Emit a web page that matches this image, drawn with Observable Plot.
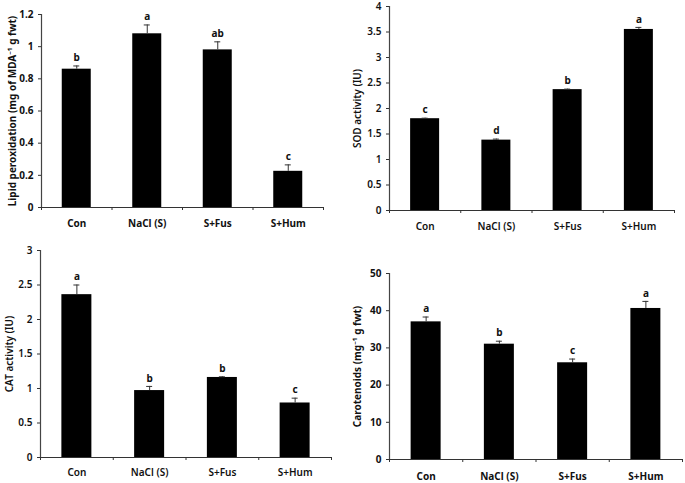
<!DOCTYPE html>
<html>
<head>
<meta charset="utf-8">
<script src="https://cdn.jsdelivr.net/npm/d3@7"></script>
<script src="https://cdn.jsdelivr.net/npm/@observablehq/plot@0.6"></script>
<style>
  body { margin: 0; background: #fff; }
  #wrap { position: relative; width: 685px; height: 483px; background: #fff; font-family: "Noto Sans", sans-serif; }
  #wrap > div { position: absolute; }
</style>
</head>
<body>
<div id="wrap"></div>
<script>
const categories = ["Con", "NaCl (S)", "S+Fus", "S+Hum"];

const lipidValues = [0.86, 1.08, 0.98, 0.225];
const lipidErrors = [0.02, 0.055, 0.05, 0.04];
const lipidLetters = ["b", "a", "ab", "c"];
const lipidTicks = [0, 0.2, 0.4, 0.6, 0.8, 1, 1.2];

const sodValues = [1.80, 1.38, 2.37, 3.55];
const sodErrors = [0.01, 0.02, 0.01, 0.04];
const sodLetters = ["c", "d", "b", "a"];
const sodTicks = [0, 0.5, 1, 1.5, 2, 2.5, 3, 3.5, 4];

const catValues = [2.36, 0.97, 1.16, 0.79];
const catErrors = [0.14, 0.06, 0.01, 0.07];
const catLetters = ["a", "b", "b", "c"];
const catTicks = [0, 0.5, 1, 1.5, 2, 2.5, 3];

const carValues = [37.0, 31.0, 26.0, 40.6];
const carErrors = [1.3, 0.8, 1.0, 1.9];
const carLetters = ["a", "b", "c", "a"];
const carTicks = [0, 10, 20, 30, 40, 50];

function panel(opts) {
  const data = categories.map((c, i) => ({
    cat: c, i, value: opts.values[i], err: opts.errors[i], letter: opts.letters[i]
  }));
  const bandPx = (opts.width - opts.marginLeft - opts.marginRight) / categories.length;
  const inset = (bandPx - opts.barWidth) / 2;
  const capInset = (bandPx - 6) / 2;
  const weight = opts.weight;
  const chart = Plot.plot({
    width: opts.width,
    height: opts.height,
    marginLeft: opts.marginLeft,
    marginRight: opts.marginRight,
    marginTop: opts.marginTop,
    marginBottom: opts.marginBottom,
    style: { fontFamily: "'Noto Sans', sans-serif", fontSize: "9.5px", fontWeight: weight, color: "#111", background: "#fff" },
    x: { domain: [0, categories.length] },
    y: { domain: [0, opts.ticks[opts.ticks.length - 1]] },
    marks: [
      Plot.rectY(data, { x1: "i", x2: d => d.i + 1, y: "value", fill: "#000", insetLeft: inset, insetRight: inset }),
      Plot.ruleX(data, { x: d => d.i + 0.5, y1: "value", y2: d => d.value + d.err, stroke: "#333", strokeWidth: 1 }),
      Plot.ruleY(data, { x1: "i", x2: d => d.i + 1, y: d => d.value + d.err, stroke: "#333", strokeWidth: 1, insetLeft: capInset, insetRight: capInset }),
      Plot.text(data, { x: d => d.i + 0.5, y: d => d.value + d.err, text: "letter", dy: -8, fontWeight: "bold", fontSize: 10, fill: "#111" }),
      Plot.ruleY([0], { stroke: "#333", strokeWidth: 1.2 }),
      Plot.ruleX([0], { stroke: "#444", strokeWidth: 1.2 }),
      Plot.axisY({ ticks: opts.ticks, tickSize: 3, tickPadding: 5, stroke: "#333", tickFormat: d => String(d),
        label: opts.label, labelAnchor: "center", labelArrow: "none", labelOffset: opts.labelOffset,
        fontWeight: weight, fontSize: 10, fill: "#111" }),
      Plot.axisX({ ticks: d3.range(categories.length + 1), tickSize: 3, tickFormat: () => "", stroke: "#333", label: null }),
      Plot.axisX({ ticks: categories.map((c, i) => i + 0.5), tickSize: 0, tickPadding: opts.labelPad,
        tickFormat: v => categories[Math.floor(v)], label: null, fontWeight: weight, fontSize: 10, fill: "#111" })
    ]
  });
  const div = document.createElement("div");
  div.style.left = opts.left + "px";
  div.style.top = opts.top + "px";
  div.appendChild(chart);
  document.getElementById("wrap").appendChild(div);
}

panel({ left: 0, top: 0, width: 340, height: 240, marginLeft: 41, marginRight: 17, marginTop: 14, marginBottom: 33,
  values: lipidValues, errors: lipidErrors, letters: lipidLetters, ticks: lipidTicks, barWidth: 29,
  label: "Lipid peroxidation (mg of MDA⁻¹ g fwt)", labelOffset: 33, labelPad: 12, weight: "bold" });

panel({ left: 340, top: 0, width: 345, height: 240, marginLeft: 49, marginRight: 11, marginTop: 6, marginBottom: 30,
  values: sodValues, errors: sodErrors, letters: sodLetters, ticks: sodTicks, barWidth: 29,
  label: "SOD activity (IU)", labelOffset: 36, labelPad: 12, weight: "600" });

panel({ left: 0, top: 240, width: 340, height: 243, marginLeft: 40, marginRight: 9, marginTop: 10, marginBottom: 26,
  values: catValues, errors: catErrors, letters: catLetters, ticks: catTicks, barWidth: 30,
  label: "CAT activity (IU)", labelOffset: 35, labelPad: 11, weight: "600" });

panel({ left: 340, top: 240, width: 345, height: 243, marginLeft: 49, marginRight: 3, marginTop: 33, marginBottom: 24,
  values: carValues, errors: carErrors, letters: carLetters, ticks: carTicks, barWidth: 30,
  label: "Carotenoids (mg⁻¹ g fwt)", labelOffset: 36, labelPad: 13, weight: "bold" });
</script>
</body>
</html>
